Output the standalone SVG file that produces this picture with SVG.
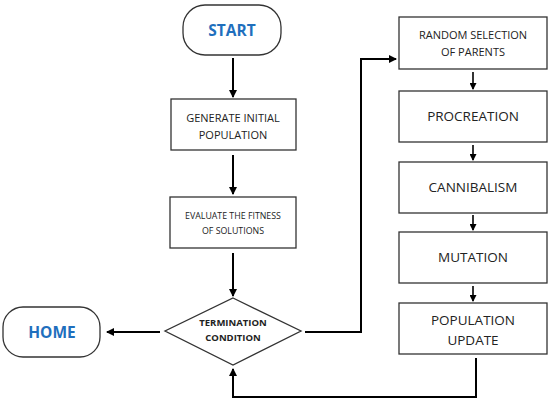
<svg xmlns="http://www.w3.org/2000/svg" width="550" height="405" viewBox="0 0 550 405">
<style>
.box{fill:#fff;stroke:#333;stroke-width:1.3}
.t{font-family:"Open Sans","Liberation Sans",sans-serif;fill:#222;text-anchor:middle}
.b{font-weight:bold}
.blue{fill:#1f6fbd;font-weight:bold}
.c{fill:none;stroke:#000;stroke-width:2}
.cs{fill:none;stroke:#000;stroke-width:1.6}
</style>
<defs>
<marker id="ah" markerWidth="8" markerHeight="8" refX="7" refY="4" orient="auto" markerUnits="userSpaceOnUse" viewBox="0 0 8 8">
<path d="M0,0 L8,4 L0,8 z" fill="#000"/>
</marker>
<marker id="ahs" markerWidth="7" markerHeight="7" refX="6" refY="3.5" orient="auto" markerUnits="userSpaceOnUse" viewBox="0 0 7 7">
<path d="M0,0 L7,3.5 L0,7 z" fill="#000"/>
</marker>
</defs>
<rect width="550" height="405" fill="#fff"/>
<g id="connectors">
<line class="c" x1="233" y1="58" x2="233" y2="97" marker-end="url(#ah)"/>
<line class="c" x1="233" y1="155" x2="233" y2="194" marker-end="url(#ah)"/>
<line class="c" x1="233" y1="253" x2="233" y2="296" marker-end="url(#ah)"/>
<line class="c" x1="160" y1="332" x2="107" y2="332" marker-end="url(#ah)"/>
<polyline class="c" points="305,332 361,332 361,59 396,59" marker-end="url(#ah)"/>
<line class="cs" x1="473" y1="72" x2="473" y2="89" marker-end="url(#ahs)"/>
<line class="cs" x1="473" y1="145" x2="473" y2="160" marker-end="url(#ahs)"/>
<line class="cs" x1="473" y1="215" x2="473" y2="230" marker-end="url(#ahs)"/>
<line class="cs" x1="473" y1="286" x2="473" y2="301" marker-end="url(#ahs)"/>
<polyline class="c" points="476,358 476,397 233,397 233,369" marker-end="url(#ah)"/>
</g>
<g id="start">
<rect class="box" x="183" y="5" width="98" height="50" rx="22" ry="22"/>
<text class="t blue" x="232" y="35.5" font-size="15.5">START</text>
</g>
<g id="generate">
<rect class="box" x="171" y="99" width="125" height="51"/>
<text class="t" x="233" y="122" font-size="11">GENERATE INITIAL</text>
<text class="t" x="233" y="139" font-size="11">POPULATION</text>
</g>
<g id="evaluate">
<rect class="box" x="170" y="197" width="126" height="51"/>
<text class="t" x="233" y="219" font-size="8.8">EVALUATE THE FITNESS</text>
<text class="t" x="233" y="234" font-size="8.8">OF SOLUTIONS</text>
</g>
<g id="termination">
<polygon class="box" points="233,298 301,331 233,365 165,331"/>
<text class="t b" x="233" y="326" font-size="9.5">TERMINATION</text>
<text class="t b" x="233" y="341" font-size="9.5">CONDITION</text>
</g>
<g id="home">
<rect class="box" x="3" y="307" width="97" height="50" rx="20" ry="20"/>
<text class="t blue" x="52" y="338" font-size="15.5">HOME</text>
</g>
<g id="random">
<rect class="box" x="399" y="17" width="148" height="52"/>
<text class="t" x="473" y="39" font-size="11">RANDOM SELECTION</text>
<text class="t" x="473" y="56" font-size="11">OF PARENTS</text>
</g>
<g id="procreation">
<rect class="box" x="399" y="91" width="148" height="51"/>
<text class="t" x="473" y="121" font-size="13.5">PROCREATION</text>
</g>
<g id="cannibalism">
<rect class="box" x="399" y="162" width="148" height="51"/>
<text class="t" x="473" y="192" font-size="13.5">CANNIBALISM</text>
</g>
<g id="mutation">
<rect class="box" x="399" y="232" width="148" height="51"/>
<text class="t" x="473" y="262" font-size="13.5">MUTATION</text>
</g>
<g id="update">
<rect class="box" x="399" y="303" width="148" height="51"/>
<text class="t" x="473" y="325" font-size="13.5">POPULATION</text>
<text class="t" x="473" y="345" font-size="13.5">UPDATE</text>
</g>
</svg>
